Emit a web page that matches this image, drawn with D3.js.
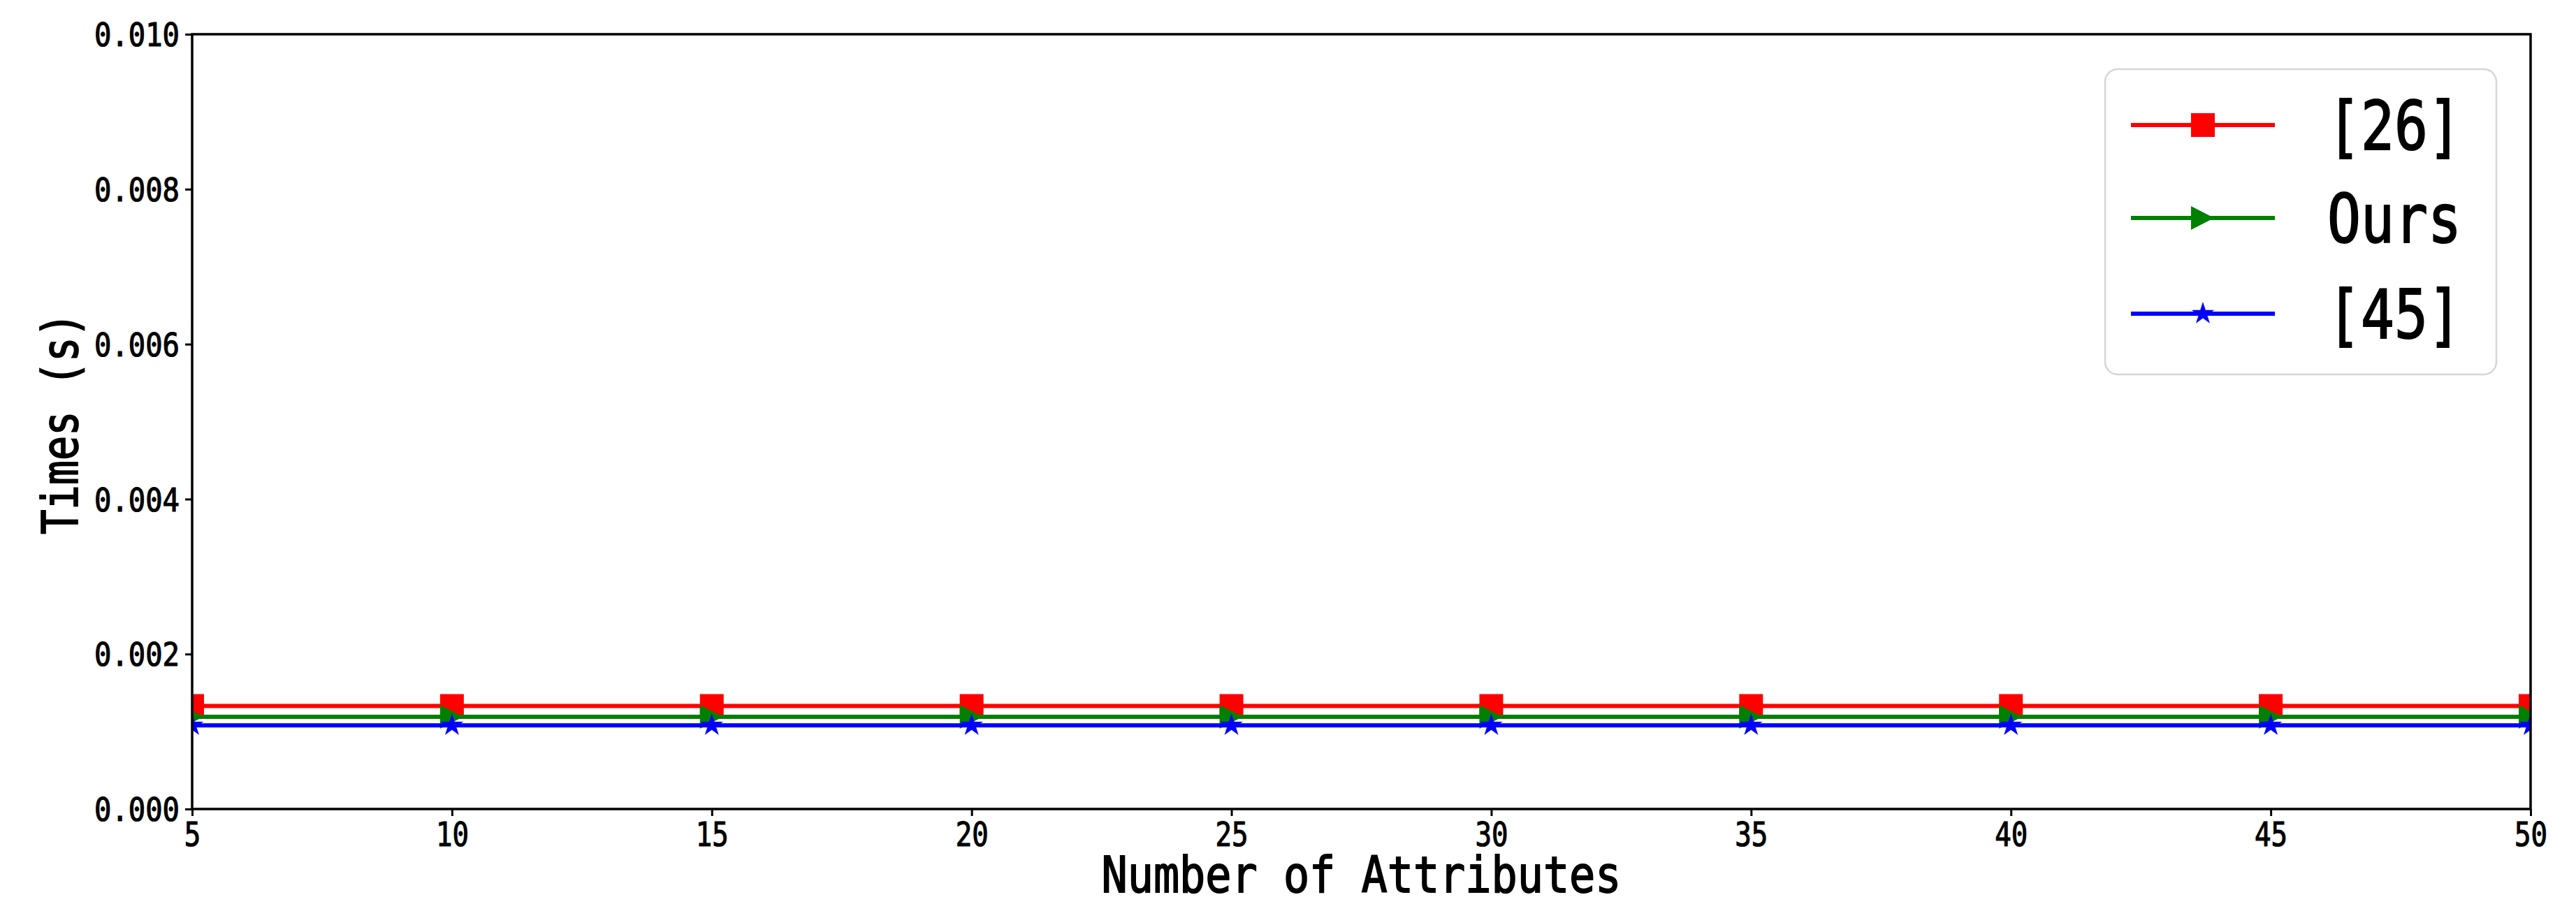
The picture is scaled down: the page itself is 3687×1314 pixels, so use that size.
<!DOCTYPE html>
<html>
<head>
<meta charset="utf-8">
<script src="https://cdn.jsdelivr.net/npm/d3@7"></script>
<style>
  html, body { margin: 0; padding: 0; background: #ffffff; }
  svg { display: block; }
</style>
</head>
<body>
<svg id="chart" width="3687" height="1314"></svg>
<script>
// ---------------- data ----------------
const categories = [5, 10, 15, 20, 25, 30, 35, 40, 45, 50];
const series26   = [0.00133, 0.00133, 0.00133, 0.00133, 0.00133, 0.00133, 0.00133, 0.00133, 0.00133, 0.00133];
const seriesOurs = [0.00119, 0.00119, 0.00119, 0.00119, 0.00119, 0.00119, 0.00119, 0.00119, 0.00119, 0.00119];
const series45   = [0.00108, 0.00108, 0.00108, 0.00108, 0.00108, 0.00108, 0.00108, 0.00108, 0.00108, 0.00108];
const seriesNames = ["[26]", "Ours", "[45]"];
const xTickValues = [5, 10, 15, 20, 25, 30, 35, 40, 45, 50];
const yTickValues = [0, 0.002, 0.004, 0.006, 0.008, 0.010];
const xLabel = "Number of Attributes";
const yLabel = "Times (s)";

// ---------------- layout ----------------
const W = 3687, H = 1314;
const plot = { left: 275, right: 3622, top: 49, bottom: 1158 };
const FONT = "'DejaVu Sans Mono', 'Liberation Mono', monospace";

const svg = d3.select("#chart");
svg.append("rect").attr("width", W).attr("height", H).attr("fill", "#ffffff");

const x = d3.scaleLinear().domain([5, 50]).range([plot.left, plot.right]);
const y = d3.scaleLinear().domain([0, 0.010]).range([plot.bottom, plot.top]);

// narrow monospace text (SimHei-like half-width glyphs)
function fitText(sel, advance, weight) {
  sel.each(function() {
    const t = d3.select(this);
    const s = t.text();
    t.attr("textLength", s.length * advance).attr("lengthAdjust", "spacingAndGlyphs")
     .attr("stroke", "#000").attr("stroke-width", weight || 1)
     .attr("paint-order", "stroke");
  });
}

// clip
svg.append("defs").append("clipPath").attr("id", "clip")
  .append("rect")
  .attr("x", plot.left).attr("y", plot.top)
  .attr("width", plot.right - plot.left).attr("height", plot.bottom - plot.top);

// ---------------- markers ----------------
function starPath(r) {
  const inner = r * 0.381966;
  const pts = [];
  for (let i = 0; i < 10; i++) {
    const rr = i % 2 === 0 ? r : inner;
    const a = -Math.PI / 2 + i * Math.PI / 5;
    pts.push([rr * Math.cos(a), rr * Math.sin(a)]);
  }
  return "M" + pts.map(p => p[0].toFixed(2) + "," + p[1].toFixed(2)).join("L") + "Z";
}
const markerPaths = {
  square: "M-17,-17L17,-17L17,17L-17,17Z",
  triangle: "M-17,-17L16,0L-17,17Z",
  star: starPath(17)
};

const seriesDefs = [
  { name: seriesNames[0], values: series26,   color: "#ff0000", marker: "square" },
  { name: seriesNames[1], values: seriesOurs, color: "#008000", marker: "triangle" },
  { name: seriesNames[2], values: series45,   color: "#0000ff", marker: "star" }
];

// ---------------- data marks ----------------
const dataG = svg.append("g").attr("clip-path", "url(#clip)");
const line = d3.line().x(d => x(d[0])).y(d => y(d[1]));
seriesDefs.forEach(s => {
  const pts = categories.map((c, i) => [c, s.values[i]]);
  const g = dataG.append("g");
  g.append("path").datum(pts)
    .attr("d", line)
    .attr("fill", "none")
    .attr("stroke", s.color)
    .attr("stroke-width", 6);
  g.selectAll("path.mk").data(pts).enter().append("path")
    .attr("class", "mk")
    .attr("d", markerPaths[s.marker])
    .attr("transform", d => `translate(${x(d[0])},${y(d[1])})`)
    .attr("fill", s.color);
});

// ---------------- axes ----------------
const xAxis = d3.axisBottom(x).tickValues(xTickValues).tickSize(10).tickFormat(d3.format("d"));
const gx = svg.append("g").attr("transform", `translate(0,${plot.bottom})`).call(xAxis);
gx.select(".domain").remove();
gx.selectAll(".tick line").attr("stroke", "#000").attr("stroke-width", 3);
gx.selectAll(".tick text")
  .attr("y", 53).attr("dy", 0)
  .attr("fill", "#000")
  .style("font-family", FONT).style("font-size", "48px")
  .call(fitText, 23.5, 1.2);

const yAxis = d3.axisLeft(y).tickValues(yTickValues).tickSize(10).tickFormat(d3.format(".3f"));
const gy = svg.append("g").attr("transform", `translate(${plot.left},0)`).call(yAxis);
gy.select(".domain").remove();
gy.selectAll(".tick line").attr("stroke", "#000").attr("stroke-width", 3);
gy.selectAll(".tick text")
  .attr("x", -18).attr("dy", "0.365em")
  .attr("fill", "#000")
  .style("font-family", FONT).style("font-size", "46px")
  .call(fitText, 24.4, 1.2);

// spines
svg.append("rect")
  .attr("x", plot.left).attr("y", plot.top)
  .attr("width", plot.right - plot.left).attr("height", plot.bottom - plot.top)
  .attr("fill", "none").attr("stroke", "#000").attr("stroke-width", 3.5);

// axis labels
svg.append("text")
  .attr("x", (plot.left + plot.right) / 2).attr("y", 1277)
  .attr("text-anchor", "middle")
  .style("font-family", FONT).style("font-size", "71px")
  .attr("fill", "#000")
  .text(xLabel)
  .call(fitText, 37.2, 1.8);

svg.append("text")
  .attr("transform", `translate(111,${606}) rotate(-90)`)
  .attr("text-anchor", "middle")
  .style("font-family", FONT).style("font-size", "71px")
  .attr("fill", "#000")
  .text(yLabel)
  .call(fitText, 35.3, 1.8);

// ---------------- legend ----------------
const legend = svg.append("g");
legend.append("rect")
  .attr("x", 3013).attr("y", 99)
  .attr("width", 3573 - 3013).attr("height", 536 - 99)
  .attr("rx", 18).attr("ry", 18)
  .attr("fill", "#ffffff")
  .attr("stroke", "#d6d6d6").attr("stroke-width", 2.5);

const legendRowY = [179, 312, 449];
seriesDefs.forEach((s, i) => {
  const ly = legendRowY[i];
  legend.append("line")
    .attr("x1", 3050).attr("x2", 3256)
    .attr("y1", ly).attr("y2", ly)
    .attr("stroke", s.color).attr("stroke-width", 6);
  legend.append("path")
    .attr("d", markerPaths[s.marker])
    .attr("transform", `translate(3153,${ly})`)
    .attr("fill", s.color);
  legend.append("text")
    .attr("x", 3331).attr("y", ly).attr("dy", "0.365em")
    .style("font-family", FONT).style("font-size", "96px")
    .attr("fill", "#000")
    .text(s.name)
    .call(fitText, 48, 2);
});
</script>
</body>
</html>
